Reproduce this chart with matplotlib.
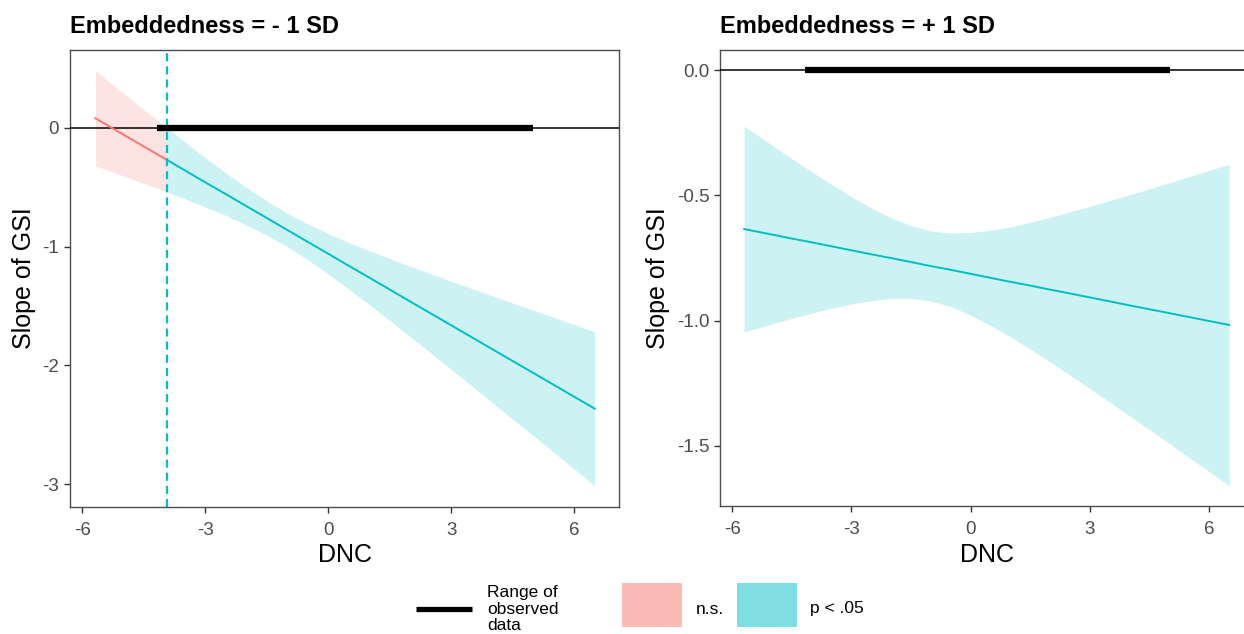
import matplotlib
matplotlib.use('Agg')
import matplotlib.pyplot as plt
import numpy as np
from matplotlib.patches import Rectangle
from matplotlib.lines import Line2D

plt.rcParams['font.family'] = ['Liberation Sans', 'DejaVu Sans']
plt.rcParams['axes.unicode_minus'] = False

RED = '#F8766D'
TEAL = '#00BFC4'

# ---------------- data ----------------
titles = ['Embeddedness = - 1 SD', 'Embeddedness = + 1 SD']
x_label = 'DNC'
y_label = 'Slope of GSI'

# Panel 1: Embeddedness = -1 SD
x1 = [-5.68, -5.0, -4.5, -3.94, -3.5, -3.0, -2.5, -2.0, -1.5, -1.0, -0.5, 0.0,
      0.5, 1.0, 1.5, 2.0, 3.0, 4.0, 5.0, 6.5]
est1 = [0.079, -0.058, -0.158, -0.270, -0.359, -0.460, -0.559, -0.660, -0.760, -0.861,
        -0.961, -1.061, -1.162, -1.262, -1.362, -1.463, -1.663, -1.864, -2.064, -2.365]
lo1 = [-0.321, -0.406, -0.469, -0.540, -0.599, -0.668, -0.738, -0.817, -0.904, -1.002,
       -1.111, -1.231, -1.358, -1.489, -1.622, -1.759, -2.034, -2.313, -2.592, -3.013]
hi1 = [0.479, 0.290, 0.153, 0.000, -0.119, -0.252, -0.380, -0.503, -0.617, -0.720,
       -0.811, -0.891, -0.966, -1.035, -1.102, -1.167, -1.292, -1.415, -1.536, -1.717]
jn1 = -3.94          # Johnson-Neyman boundary (significant to the right)

# Panel 2: Embeddedness = +1 SD (significant everywhere)
x2 = [-5.7, -5.0, -4.5, -4.0, -3.5, -3.0, -2.5, -2.0, -1.5, -1.0, -0.5, 0.0,
      0.5, 1.0, 1.5, 2.0, 3.0, 4.0, 5.0, 6.5]
est2 = [-0.634, -0.656, -0.672, -0.687, -0.703, -0.719, -0.735, -0.750, -0.766, -0.782,
        -0.797, -0.813, -0.829, -0.845, -0.860, -0.876, -0.907, -0.939, -0.970, -1.017]
lo2 = [-1.045, -1.013, -0.991, -0.970, -0.950, -0.933, -0.920, -0.911, -0.911, -0.922,
       -0.944, -0.978, -1.019, -1.065, -1.114, -1.165, -1.271, -1.381, -1.491, -1.659]
hi2 = [-0.223, -0.299, -0.353, -0.405, -0.456, -0.505, -0.550, -0.589, -0.621, -0.642,
       -0.650, -0.648, -0.639, -0.625, -0.607, -0.587, -0.543, -0.497, -0.449, -0.375]

obs_range = [-4.18, 5.0]   # range of observed DNC data

xticks = [-6, -3, 0, 3, 6]
yticks1 = [0, -1, -2, -3]
ytick_labels1 = ['0', '-1', '-2', '-3']
yticks2 = [0.0, -0.5, -1.0, -1.5]
ytick_labels2 = ['0.0', '-0.5', '-1.0', '-1.5']

legend_labels = ['Range of\nobserved\ndata', 'n.s.', 'p < .05']

# ---------------- figure ----------------
W, H = 1244, 634
fig = plt.figure(figsize=(W / 100, H / 100), dpi=100)

ax1 = fig.add_axes([70 / W, 1 - 506.7 / H, 549.3 / W, 456.7 / H])
ax2 = fig.add_axes([720.3 / W, 1 - 506 / H, 532.7 / W, 456 / H])


def draw_panel(ax, x, est, lo, hi, jn, title, yt, ytl, ylim, ylab_x, xlab_y):
    x = np.array(x); est = np.array(est); lo = np.array(lo); hi = np.array(hi)
    if jn is not None:
        ns = x <= jn + 1e-9
        sg = x >= jn - 1e-9
    else:
        ns = np.zeros_like(x, dtype=bool)
        sg = np.ones_like(x, dtype=bool)
    if ns.sum() > 1:
        ax.fill_between(x[ns], lo[ns], hi[ns], color=RED, alpha=0.2, lw=0, zorder=1)
    ax.fill_between(x[sg], lo[sg], hi[sg], color=TEAL, alpha=0.2, lw=0, zorder=1)
    if jn is not None:
        ax.axvline(jn, color=TEAL, lw=1.6, ls=(0, (3.6, 2.3)), zorder=2)
    ax.axhline(0, color='black', lw=1.1, zorder=3)
    ax.plot(obs_range, [0, 0], color='black', lw=4.5, solid_capstyle='butt', zorder=4)
    if ns.sum() > 1:
        ax.plot(x[ns], est[ns], color=RED, lw=1.4, zorder=5)
    ax.plot(x[sg], est[sg], color=TEAL, lw=1.4, zorder=5)

    ax.set_xlim(-6.30, 7.10)
    ax.set_ylim(*ylim)
    ax.set_xticks(xticks)
    ax.set_xticklabels([str(t) for t in xticks])
    ax.set_yticks(yt)
    ax.set_yticklabels(ytl)
    ax.tick_params(axis='both', length=4.3, width=1.0, color='#333333',
                   labelcolor='#4D4D4D', labelsize=13.5)
    ax.tick_params(axis='x', pad=6.5)
    ax.tick_params(axis='y', pad=3.5)
    for s in ax.spines.values():
        s.set_color('#4D4D4D')
        s.set_linewidth(1.0)
    ax.set_title(title, loc='left', fontsize=17, fontweight='bold', pad=12.5)
    ax.set_xlabel(x_label, fontsize=18)
    ax.set_ylabel(y_label, fontsize=18)
    ax.xaxis.label.set_va('baseline')
    ax.yaxis.label.set_va('baseline')
    ax.xaxis.set_label_coords(0.5, xlab_y)
    ax.yaxis.set_label_coords(ylab_x, 0.5)


draw_panel(ax1, x1, est1, lo1, hi1, jn1, titles[0], yticks1, ytick_labels1,
           (-3.19, 0.654), -0.0717, -0.1204)
draw_panel(ax2, x2, est2, lo2, hi2, None, titles[1], yticks2, ytick_labels2,
           (-1.74, 0.081), -0.1038, -0.1221)

# ---------------- legend (bottom, in pixel coordinates) ----------------
lg = fig.add_axes([0, 0, 1, 1], zorder=10)
lg.set_xlim(0, W)
lg.set_ylim(H, 0)
lg.axis('off')
lg.patch.set_alpha(0)
lg.add_line(Line2D([415.5, 471.5], [609, 609], color='black', lw=3.8, solid_capstyle='butt'))
lg.text(487, 609, legend_labels[0], fontsize=12.5, va='center', ha='left', linespacing=1.1)
lg.add_patch(Rectangle((621.7, 582.7), 60, 44, color=RED, alpha=0.5, lw=0))
lg.text(696, 609, legend_labels[1], fontsize=12.5, va='center', ha='left')
lg.add_patch(Rectangle((737.3, 582.7), 60, 44, color=TEAL, alpha=0.5, lw=0))
lg.text(810, 609, legend_labels[2], fontsize=12.5, va='center', ha='left')

fig.savefig('out.png', dpi=100)
